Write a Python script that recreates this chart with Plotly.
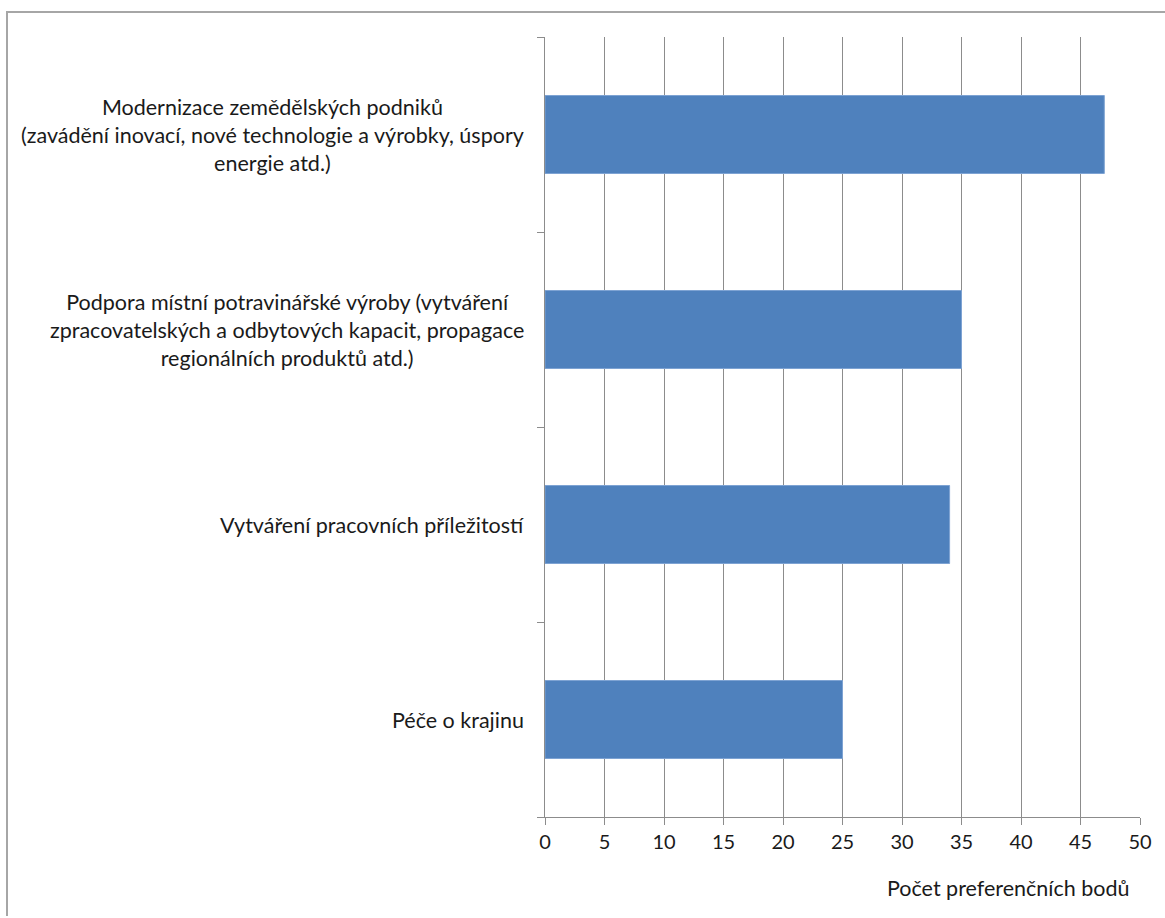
import plotly.graph_objects as go

categories = [
    "Modernizace zemědělských podniků<br>(zavádění inovací, nové technologie a výrobky, úspory<br>energie atd.)",
    "Podpora místní potravinářské výroby (vytváření<br>zpracovatelských a odbytových kapacit, propagace<br>regionálních produktů atd.)",
    "Vytváření pracovních příležitostí",
    "Péče o krajinu",
]
values = [47, 35, 34, 25]
x_ticks = [0, 5, 10, 15, 20, 25, 30, 35, 40, 45, 50]
x_title = "Počet preferenčních bodů"

# target plot area in page px: x 545..1140, y 37..817
W, H = 1165, 916
PX0, PX1, PY0, PY1 = 545, 1140, 37, 817
L, T = PX0, PY0
R, B = W - PX1, H - PY1
pw, ph = PX1 - PX0, PY1 - PY0
FONT = "Lato"
TXT = "#1A1A1A"
GRID = "#8C8C8C"

fig = go.Figure()
fig.add_trace(go.Bar(
    y=categories, x=values, orientation="h", width=0.4,
    marker=dict(color="#4F81BD", line=dict(color="#7EA3D3", width=1)),
    showlegend=False,
))

for c in categories:
    fig.add_annotation(
        x=0, xref="paper", y=c, yref="y", xanchor="right", yanchor="middle",
        xshift=-19, text=c, showarrow=False, align="center",
        font=dict(family=FONT, size=21.5, color=TXT),
    )

fig.add_annotation(
    x=1, xref="paper", y=0, yref="paper", xanchor="right", yanchor="middle",
    xshift=-8, yshift=-71, text=x_title, showarrow=False,
    font=dict(family=FONT, size=21.5, color=TXT),
)

# outer chart border (left and top edges visible)
fig.add_shape(
    type="rect", xref="paper", yref="paper",
    x0=(7 - PX0) / pw, x1=(W + 10 - PX0) / pw,
    y0=(PY1 - (H + 10)) / ph, y1=(PY1 - 12) / ph,
    line=dict(color="#A6A6A6", width=2), fillcolor="rgba(0,0,0,0)", layer="below",
)

fig.update_layout(
    autosize=False,
    width=W, height=H,
    margin=dict(l=L, r=R, t=T, b=B),
    paper_bgcolor="white", plot_bgcolor="white",
    font=dict(family=FONT, size=20, color=TXT),
)
fig.update_xaxes(
    range=[0, 50], tickvals=x_ticks, ticktext=[str(v) for v in x_ticks],
    showgrid=True, gridcolor=GRID, gridwidth=1,
    showline=True, linecolor=GRID, linewidth=1,
    ticks="outside", ticklen=7, tickcolor=GRID,
    zeroline=False, tickfont=dict(family=FONT, size=20, color=TXT),
)
fig.update_yaxes(
    type="category", categoryorder="array", categoryarray=categories[::-1],
    tickson="boundaries", ticks="outside", ticklen=7, tickcolor=GRID,
    showticklabels=False, showgrid=False,
    showline=True, linecolor=GRID, linewidth=1, zeroline=False,
)

fig.write_html(
    "out.html",
    config={"displayModeBar": False},
    post_script="document.body.style.margin='0px';document.body.style.overflow='hidden';",
)
